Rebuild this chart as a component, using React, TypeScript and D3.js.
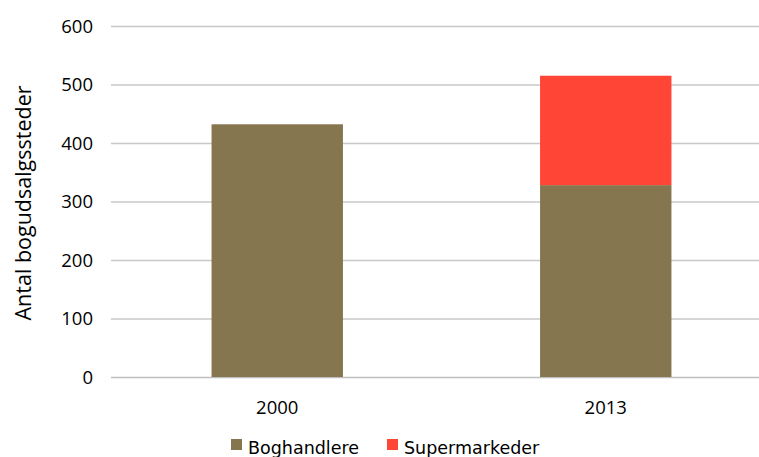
import * as d3 from "d3";
import { useEffect, useRef } from "react";

const years = ["2000", "2013"];
const boghandlere = [432, 328];
const supermarkeder = [0, 187];
const seriesNames = ["Boghandlere", "Supermarkeder"];
const colors = ["#857650", "#FF4536"];
const yTicks = [0, 100, 200, 300, 400, 500, 600];

const width = 759;
const height = 457;

const App = () => {
  const ref = useRef<SVGSVGElement>(null);

  useEffect(() => {
    const svg = d3.select(ref.current);
    svg.selectAll("*").remove();

    const font = "'Open Sans', sans-serif";
    const legendFont = "'DejaVu Sans', sans-serif";

    const x = d3
      .scaleBand()
      .domain(years)
      .range([113, 770])
      .paddingInner(0.6)
      .paddingOuter(0.3);

    const y = d3.scaleLinear().domain([0, 600]).range([377, 26]);

    // grid lines
    svg
      .append("g")
      .selectAll("line")
      .data(yTicks)
      .enter()
      .append("line")
      .attr("x1", 111)
      .attr("x2", width)
      .attr("y1", (d) => y(d) + 0.5)
      .attr("y2", (d) => y(d) + 0.5)
      .style("stroke", (d) => (d === 0 ? "#bfbfbf" : "#c8c8c8"))
      .style("stroke-width", 1.3);

    // y tick labels
    svg
      .append("g")
      .selectAll("text")
      .data(yTicks)
      .enter()
      .append("text")
      .attr("x", 93)
      .attr("y", (d) => y(d))
      .attr("dy", "0.36em")
      .attr("text-anchor", "end")
      .style("font-family", font)
      .style("font-size", "18.5px")
      .style("fill", "#000")
      .text((d) => d);

    // stacked bars
    const rows = years.map((yr, i) => ({
      year: yr,
      Boghandlere: boghandlere[i],
      Supermarkeder: supermarkeder[i],
    }));
    const stack = d3.stack<any>().keys(seriesNames)(rows);

    svg
      .append("g")
      .selectAll("g")
      .data(stack)
      .enter()
      .append("g")
      .style("fill", (_, i) => colors[i])
      .selectAll("rect")
      .data((d) => d)
      .enter()
      .append("rect")
      .attr("x", (d: any) => x(d.data.year)!)
      .attr("width", x.bandwidth())
      .attr("y", (d) => y(d[1]))
      .attr("height", (d) => y(d[0]) - y(d[1]));

    // x labels
    svg
      .append("g")
      .selectAll("text")
      .data(years)
      .enter()
      .append("text")
      .attr("x", (d) => x(d)! + x.bandwidth() / 2)
      .attr("y", 414)
      .attr("text-anchor", "middle")
      .style("font-family", font)
      .style("font-size", "18.5px")
      .text((d) => d);

    // y axis title
    svg
      .append("text")
      .attr("transform", "translate(31, 203) rotate(-90)")
      .attr("text-anchor", "middle")
      .style("font-family", font)
      .style("font-size", "21.5px")
      .text("Antal bogudsalgssteder");

    // legend
    const legendX = [231, 387];
    const legend = svg
      .append("g")
      .selectAll("g")
      .data(seriesNames)
      .enter()
      .append("g")
      .attr("transform", (_, i) => `translate(${legendX[i]}, 439)`);
    legend
      .append("rect")
      .attr("width", 11)
      .attr("height", 11)
      .style("fill", (_, i) => colors[i]);
    legend
      .append("text")
      .attr("x", 17)
      .attr("y", 11)
      .attr("dy", "0.2em")
      .style("font-family", legendFont)
      .style("font-size", "17.5px")
      .text((d) => d);
  }, []);

  return (
    <svg
      ref={ref}
      width={width}
      height={height}
      style={{ position: "absolute", left: 0, top: 0, background: "#fff" }}
    />
  );
};

export default App;
